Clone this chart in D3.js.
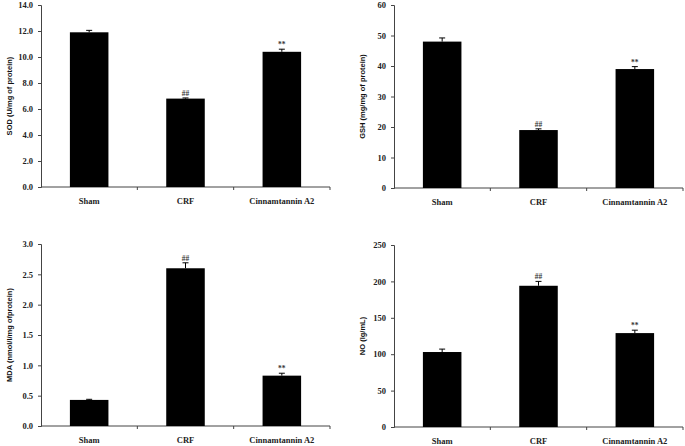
<!DOCTYPE html>
<html>
<head>
<meta charset="utf-8">
<script src="https://cdn.jsdelivr.net/npm/d3@7"></script>
<style>
  body { margin: 0; background: #fff; }
  svg { display: block; }
</style>
</head>
<body>
<svg id="chart" width="685" height="446"></svg>
<script>
// --- Data ---
const groups = ["Sham", "CRF", "Cinnamtannin A2"];

const sodValues = [11.9, 6.8, 10.4];
const sodErrors = [0.15, 0.05, 0.2];
const sodTicks = [0, 2, 4, 6, 8, 10, 12, 14];

const gshValues = [48, 19, 39];
const gshErrors = [1.2, 0.4, 0.8];
const gshTicks = [0, 10, 20, 30, 40, 50, 60];

const mdaValues = [0.43, 2.6, 0.83];
const mdaErrors = [0.01, 0.09, 0.04];
const mdaTicks = [0, 0.5, 1.0, 1.5, 2.0, 2.5, 3.0];

const noValues = [103, 194, 129];
const noErrors = [4, 6, 4];
const noTicks = [0, 50, 100, 150, 200, 250];

const marks = ["", "##", "**"];

// --- Panel layout (plot frame in page pixels) ---
const panels = [
    { values: sodValues, errors: sodErrors, ticks: sodTicks, fmt: d3.format(".1f"),
      title: "SOD (U/mg of protein)", x0: 41, x1: 330, top: 5, bottom: 187 },
    { values: gshValues, errors: gshErrors, ticks: gshTicks, fmt: d3.format("d"),
      title: "GSH (mg/mg of protein)", x0: 394, x1: 683, top: 5, bottom: 188 },
    { values: mdaValues, errors: mdaErrors, ticks: mdaTicks, fmt: d3.format(".1f"),
      title: "MDA (nmol/l/mg ofprotein)", x0: 41, x1: 330, top: 244, bottom: 426 },
    { values: noValues, errors: noErrors, ticks: noTicks, fmt: d3.format("d"),
      title: "NO (lg/mL)", x0: 394, x1: 683, top: 245, bottom: 427 }
];

const svg = d3.select("#chart");
const serif = "'Liberation Serif', 'Times New Roman', serif";
const sans = "'Liberation Sans', Arial, sans-serif";
const axisColor = "#444";

panels.forEach(p => {
    const g = svg.append("g");
    const yMax = p.ticks[p.ticks.length - 1];

    const x = d3.scaleBand()
        .domain(groups)
        .range([p.x0, p.x1])
        .paddingInner(0.6)
        .paddingOuter(0.3);

    const y = d3.scaleLinear()
        .domain([0, yMax])
        .range([p.bottom, p.top]);

    // y axis
    const yAxis = g.append("g")
        .attr("transform", `translate(${p.x0},0)`)
        .call(d3.axisLeft(y).tickValues(p.ticks).tickFormat(p.fmt).tickSize(3).tickPadding(5));
    yAxis.select(".domain").attr("stroke", axisColor);
    yAxis.selectAll(".tick line").attr("stroke", axisColor);
    yAxis.selectAll("text")
        .style("font-family", serif)
        .style("font-weight", "bold")
        .style("font-size", "8.5px")
        .attr("fill", "#222");

    // x axis line with boundary ticks
    g.append("line")
        .attr("x1", p.x0).attr("x2", p.x1)
        .attr("y1", p.bottom).attr("y2", p.bottom)
        .attr("stroke", axisColor);
    const step = x.step();
    const edges = d3.range(groups.length + 1).map(i => p.x0 + i * step);
    g.selectAll(".xtick")
        .data(edges.slice(1))
        .enter()
        .append("line")
        .attr("x1", d => d).attr("x2", d => d)
        .attr("y1", p.bottom).attr("y2", p.bottom + 3)
        .attr("stroke", axisColor);

    g.selectAll(".xlabel")
        .data(groups)
        .enter()
        .append("text")
        .attr("x", d => x(d) + x.bandwidth() / 2)
        .attr("y", p.bottom + 17)
        .attr("text-anchor", "middle")
        .style("font-family", serif)
        .style("font-weight", "bold")
        .style("font-size", "8.5px")
        .attr("fill", "#222")
        .text(d => d);

    // bars
    g.selectAll(".bar")
        .data(groups)
        .enter()
        .append("rect")
        .attr("x", d => x(d))
        .attr("y", (d, i) => y(p.values[i]))
        .attr("width", x.bandwidth())
        .attr("height", (d, i) => p.bottom - y(p.values[i]))
        .attr("fill", "#000");

    // error bars (upper only)
    groups.forEach((d, i) => {
        const cx = x(d) + x.bandwidth() / 2;
        const yv = y(p.values[i]);
        const ye = y(p.values[i] + p.errors[i]);
        g.append("line")
            .attr("x1", cx).attr("x2", cx)
            .attr("y1", yv).attr("y2", ye)
            .attr("stroke", "#000");
        g.append("line")
            .attr("x1", cx - 3).attr("x2", cx + 3)
            .attr("y1", ye).attr("y2", ye)
            .attr("stroke", "#000");
        if (marks[i]) {
            g.append("text")
                .attr("x", cx)
                .attr("y", ye - 2)
                .attr("text-anchor", "middle")
                .style("font-family", serif)
                .style("font-weight", "bold")
                .style("font-size", "7.5px")
                .attr("fill", "#333")
                .text(marks[i]);
        }
    });

    // y axis title
    g.append("text")
        .attr("transform", `translate(${p.x0 - 29},${(p.top + p.bottom) / 2}) rotate(-90)`)
        .attr("text-anchor", "middle")
        .style("font-family", sans)
        .style("font-weight", "bold")
        .style("font-size", "7.5px")
        .attr("fill", "#111")
        .text(p.title);
});
</script>
</body>
</html>
